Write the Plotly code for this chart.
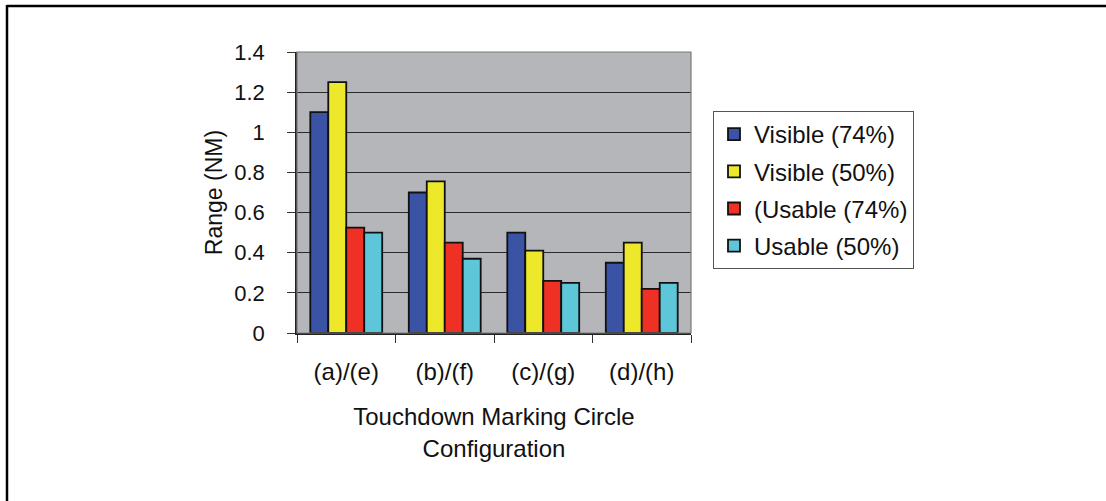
import plotly.graph_objects as go

# Touchdown marking circle configurations and detection ranges (NM)
categories = ["(a)/(e)", "(b)/(f)", "(c)/(g)", "(d)/(h)"]
visible_74 = [1.10, 0.70, 0.50, 0.35]
visible_50 = [1.25, 0.755, 0.41, 0.45]
usable_74 = [0.525, 0.45, 0.26, 0.22]
usable_50 = [0.50, 0.37, 0.25, 0.25]

series_names = ["Visible (74%)", "Visible (50%)", "(Usable (74%)", "Usable (50%)"]
series_values = [visible_74, visible_50, usable_74, usable_50]
series_colors = ["#3A53A4", "#EEE82A", "#EE3124", "#5DC6D8"]

W, H = 1106, 501
ML, MR, MT, MB = 297, 415, 52, 168
PW, PH = W - ML - MR, H - MT - MB

FONT = "Liberation Sans, Arial, sans-serif"

fig = go.Figure()
for i, (name, vals, col) in enumerate(zip(series_names, series_values, series_colors)):
    fig.add_trace(go.Bar(
        x=categories, y=vals, name=name,
        marker=dict(color=col, line=dict(color="#111111", width=1.8)),
        legendgroup=f"g{i}",
    ))


def px_x(p):
    return (p - ML) / PW


def px_y(p):
    return (H - MB - p) / PH


shapes = [
    # plot area frame (top/right in grey)
    dict(type="rect", xref="paper", yref="paper", x0=0, x1=1, y0=0, y1=1,
         line=dict(color="#7A7A7A", width=1.2), layer="above"),
    # outer frame lines along the top and left edges
    dict(type="line", xref="paper", yref="paper",
         x0=px_x(7), x1=px_x(W + 5), y0=px_y(6), y1=px_y(6),
         line=dict(color="#000000", width=2.5)),
    dict(type="line", xref="paper", yref="paper",
         x0=px_x(7), x1=px_x(7), y0=px_y(5), y1=px_y(H + 5),
         line=dict(color="#000000", width=2.5)),
]

fig.update_layout(
    width=W, height=H, autosize=False,
    margin=dict(l=ML, r=MR, t=MT, b=MB, pad=0),
    paper_bgcolor="white",
    plot_bgcolor="#B4B6B9",
    font=dict(family=FONT, size=23, color="#111111"),
    barmode="group",
    bargap=0.27,
    bargroupgap=0,
    showlegend=True,
    legend=dict(
        x=px_x(713), y=px_y(111), xanchor="left", yanchor="top",
        bordercolor="#555555", borderwidth=1, bgcolor="white",
        font=dict(family=FONT, size=24, color="#111111"),
        tracegroupgap=3, traceorder="grouped",
    ),
    xaxis=dict(
        showline=True, linecolor="#222222", linewidth=1.5,
        ticks="outside", ticklen=8, tickcolor="#333333", tickwidth=1,
        tickson="boundaries", ticklabelstandoff=16,
        tickfont=dict(family=FONT, size=24),
        title=dict(text="Touchdown Marking Circle<br>Configuration",
                   font=dict(family=FONT, size=24), standoff=25),
        automargin=False,
    ),
    yaxis=dict(
        range=[0, 1.4], dtick=0.2, tick0=0,
        showline=True, linecolor="#222222", linewidth=1.5,
        showgrid=True, gridcolor="#2A2A2A", gridwidth=1,
        ticks="outside", ticklen=8, tickcolor="#333333", tickwidth=1,
        ticklabelstandoff=18,
        tickfont=dict(family=FONT, size=22),
        title=dict(text="Range (NM)", font=dict(family=FONT, size=23), standoff=5),
        zeroline=False,
        automargin=False,
    ),
    shapes=shapes,
)

fig.write_html("out.html")
